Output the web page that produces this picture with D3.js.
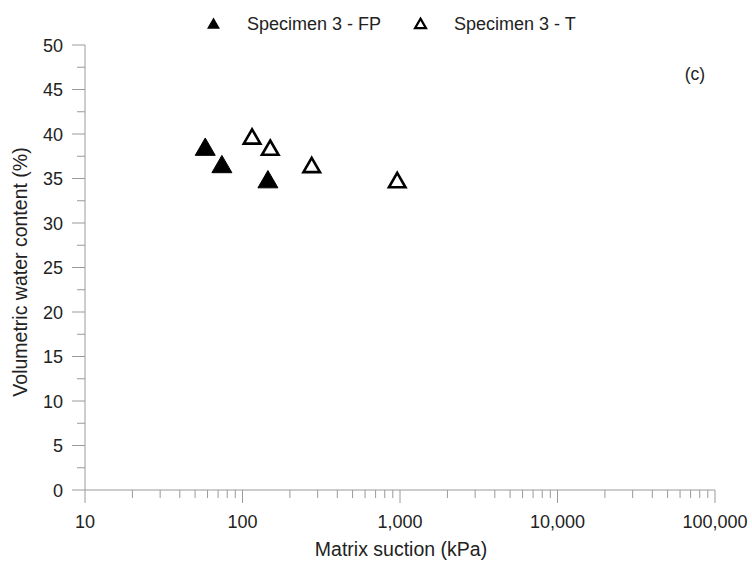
<!DOCTYPE html>
<html><head><meta charset="utf-8">
<script src="https://cdn.jsdelivr.net/npm/d3@7"></script>
<style>body{margin:0;background:#fff}svg{display:block;font-family:"Liberation Sans",Arial,sans-serif}</style>
</head><body><svg id="c" width="752" height="561"></svg>
<script>
const fpSuction = [58, 74, 145];
const fpWater = [38.25, 36.3, 34.6];
const tSuction = [115, 150, 275, 960];
const tWater = [39.45, 38.2, 36.25, 34.55];
const xTicks = [10, 100, 1000, 10000, 100000];
const yTicks = [0,5,10,15,20,25,30,35,40,45,50];
const seriesNames = ["Specimen 3 - FP", "Specimen 3 - T"];

const svg = d3.select("#c");
const x = d3.scaleLog().domain([10, 100000]).range([85, 715]);
const y = d3.scaleLinear().domain([0, 50]).range([490, 45]);
const axisColor = "#9a9a9a", textColor = "#222";

// x minor ticks
const xMinor = [];
for (let d = 10; d < 100000; d *= 10) for (let k = 2; k <= 9; k++) xMinor.push(d * k);
const gx = svg.append("g");
gx.append("line").attr("x1", x(10)).attr("x2", x(100000)).attr("y1", y(0)).attr("y2", y(0)).attr("stroke", axisColor);
gx.selectAll(".mn").data(xMinor).join("line").attr("x1", d => x(d)).attr("x2", d => x(d))
  .attr("y1", y(0)).attr("y2", y(0) + 8).attr("stroke", axisColor);
gx.selectAll(".mj").data(xTicks).join("line").attr("x1", d => x(d)).attr("x2", d => x(d))
  .attr("y1", y(0)).attr("y2", y(0) + 13).attr("stroke", axisColor);
gx.selectAll("text").data(xTicks).join("text").attr("x", d => x(d)).attr("y", y(0) + 38)
  .attr("text-anchor", "middle").attr("font-size", 18).attr("fill", textColor).text(d => d3.format(",")(d));

// y axis
const yMinor = d3.range(2.5, 50, 5);
const gy = svg.append("g");
gy.append("line").attr("x1", x(10)).attr("x2", x(10)).attr("y1", y(0)).attr("y2", y(50)).attr("stroke", axisColor);
gy.selectAll(".mn").data(yMinor).join("line").attr("x1", x(10) - 8).attr("x2", x(10))
  .attr("y1", d => y(d)).attr("y2", d => y(d)).attr("stroke", axisColor);
gy.selectAll(".mj").data(yTicks).join("line").attr("x1", x(10) - 13).attr("x2", x(10))
  .attr("y1", d => y(d)).attr("y2", d => y(d)).attr("stroke", axisColor);
gy.selectAll("text").data(yTicks).join("text").attr("x", x(10) - 22).attr("y", d => y(d) + 6.5)
  .attr("text-anchor", "end").attr("font-size", 18).attr("fill", textColor).text(d => d);

// axis titles
svg.append("text").attr("x", 401).attr("y", 556).attr("text-anchor", "middle").attr("font-size", 19.5)
  .attr("fill", textColor).text("Matrix suction (kPa)");
svg.append("text").attr("transform", "translate(27,272) rotate(-90)").attr("text-anchor", "middle")
  .attr("font-size", 19.5).attr("fill", textColor).text("Volumetric water content (%)");
svg.append("text").attr("x", 695).attr("y", 80).attr("text-anchor", "middle").attr("font-size", 17.5)
  .attr("fill", textColor).text("(c)");

const tri = d3.symbol().type(d3.symbolTriangle);
const fp = fpSuction.map((s, i) => ({s, w: fpWater[i]}));
const tt = tSuction.map((s, i) => ({s, w: tWater[i]}));
svg.append("g").selectAll("path").data(tt).join("path")
  .attr("d", tri.size(118)()).attr("transform", d => `translate(${x(d.s)},${y(d.w)})`)
  .attr("fill", "#fff").attr("stroke", "#000").attr("stroke-width", 2.6);
svg.append("g").selectAll("path").data(fp).join("path")
  .attr("d", tri.size(173)()).attr("transform", d => `translate(${x(d.s)},${y(d.w)})`)
  .attr("fill", "#000").attr("stroke", "#000").attr("stroke-width", 1);

// legend
const lg = svg.append("g");
lg.append("path").attr("d", tri.size(73)()).attr("transform", "translate(213.5,25)").attr("fill", "#000");
lg.append("text").attr("x", 247).attr("y", 29.5).attr("font-size", 18).attr("fill", textColor).text(seriesNames[0]);
lg.append("path").attr("d", tri.size(52)()).attr("transform", "translate(420.5,25)")
  .attr("fill", "#fff").attr("stroke", "#000").attr("stroke-width", 2.2);
lg.append("text").attr("x", 454).attr("y", 29.5).attr("font-size", 18).attr("fill", textColor).text(seriesNames[1]);
</script></body></html>
